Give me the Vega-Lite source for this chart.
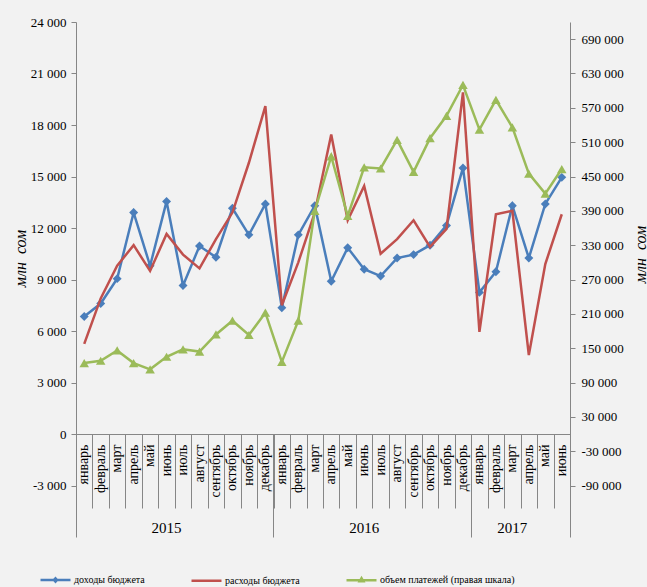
{
  "$schema": "https://vega.github.io/schema/vega-lite/v6.json",
  "autosize": {"type": "none"},
  "padding": {"left": 76, "top": 22, "right": 77, "bottom": 50},
  "width": 494,
  "height": 515,
  "background": "#f2f2f2",
  "config": {
    "view": {"stroke": null},
    "font": "Liberation Serif",
    "locale": {"number": {"decimal": ",", "thousands": " ", "grouping": [3], "currency": ["", ""], "minus": "-"}}
  },
  "data": {"values": [
    {"period": "январь 2015", "income": 6850, "expense": 5250, "payments": 124000},
    {"period": "февраль 2015", "income": 7600, "expense": 7900, "payments": 128000},
    {"period": "март 2015", "income": 9050, "expense": 9800, "payments": 146000},
    {"period": "апрель 2015", "income": 12900, "expense": 11000, "payments": 124000},
    {"period": "май 2015", "income": 9800, "expense": 9500, "payments": 113000},
    {"period": "июнь 2015", "income": 13550, "expense": 11650, "payments": 135000},
    {"period": "июль 2015", "income": 8650, "expense": 10450, "payments": 148000},
    {"period": "август 2015", "income": 10950, "expense": 9650, "payments": 144000},
    {"period": "сентябрь 2015", "income": 10300, "expense": 11350, "payments": 174000},
    {"period": "октябрь 2015", "income": 13150, "expense": 12900, "payments": 198000},
    {"period": "ноябрь 2015", "income": 11600, "expense": 15800, "payments": 173000},
    {"period": "декабрь 2015", "income": 13400, "expense": 19100, "payments": 212000},
    {"period": "январь 2016", "income": 7350, "expense": 7500, "payments": 126000},
    {"period": "февраль 2016", "income": 11600, "expense": 10000, "payments": 198000},
    {"period": "март 2016", "income": 13300, "expense": 12900, "payments": 390000},
    {"period": "апрель 2016", "income": 8900, "expense": 17450, "payments": 485000},
    {"period": "май 2016", "income": 10850, "expense": 12450, "payments": 381000},
    {"period": "июнь 2016", "income": 9600, "expense": 14450, "payments": 466000},
    {"period": "июль 2016", "income": 9200, "expense": 10500, "payments": 464000},
    {"period": "август 2016", "income": 10250, "expense": 11350, "payments": 514000},
    {"period": "сентябрь 2016", "income": 10450, "expense": 12450, "payments": 458000},
    {"period": "октябрь 2016", "income": 11000, "expense": 10900, "payments": 517000},
    {"period": "ноябрь 2016", "income": 12150, "expense": 11950, "payments": 556000},
    {"period": "декабрь 2016", "income": 15500, "expense": 19900, "payments": 610000},
    {"period": "январь 2017", "income": 8250, "expense": 5950, "payments": 532000},
    {"period": "февраль 2017", "income": 9450, "expense": 12800, "payments": 584000},
    {"period": "март 2017", "income": 13300, "expense": 13000, "payments": 536000},
    {"period": "апрель 2017", "income": 10250, "expense": 4600, "payments": 455000},
    {"period": "май 2017", "income": 13400, "expense": 9900, "payments": 420000},
    {"period": "июнь 2017", "income": 14950, "expense": 12800, "payments": 463000}
  ]},
  "resolve": {"scale": {"y": "independent"}, "axis": {"x": "independent", "y": "independent"}},
  "layer": [
    {
      "mark": {"type": "line", "color": "#4A7EBB", "strokeWidth": 2.5},
      "encoding": {
        "x": {"field": "period", "type": "ordinal",
          "scale": {"domain": ["январь 2015","февраль 2015","март 2015","апрель 2015","май 2015","июнь 2015","июль 2015","август 2015","сентябрь 2015","октябрь 2015","ноябрь 2015","декабрь 2015","январь 2016","февраль 2016","март 2016","апрель 2016","май 2016","июнь 2016","июль 2016","август 2016","сентябрь 2016","октябрь 2016","ноябрь 2016","декабрь 2016","январь 2017","февраль 2017","март 2017","апрель 2017","май 2017","июнь 2017"], "paddingInner": 0, "paddingOuter": 0},
          "axis": {"orient": "bottom", "offset": -103, "domain": true, "domainColor": "#868686", "ticks": false, "labelAngle": 270, "labelAlign": "right", "labelBaseline": "middle", "labelPadding": 10, "labelFont": "Liberation Serif", "labelFontSize": 14, "labelColor": "#000000", "labelExpr": "split(datum.label, ' ')[0]", "labelOverlap": false, "labelBound": false, "title": null, "grid": false}},
        "y": {"field": "income", "type": "quantitative",
          "scale": {"domain": [-6000, 24000], "nice": false, "zero": false},
          "axis": {"orient": "left", "values": [-3000, 0, 3000, 6000, 9000, 12000, 15000, 18000, 21000, 24000], "format": ",d", "domainColor": "#868686", "tickColor": "#868686", "tickSize": 5, "labelPadding": 5, "labelFont": "Liberation Serif", "labelFontSize": 13, "labelColor": "#000000", "grid": false, "title": "млн\u00a0\u00a0сом", "titleFont": "Liberation Serif", "titleFontSize": 16, "titleFontStyle": "italic", "titleFontWeight": "normal", "titleColor": "#000000", "titleAngle": 270, "titleX": -56, "titleY": 236, "titleAlign": "center", "titleBaseline": "middle"}}
      }
    },
    {
      "mark": {"type": "point", "shape": "diamond", "filled": true, "opacity": 1, "color": "#4A7EBB", "size": 80},
      "encoding": {
        "x": {"field": "period", "type": "ordinal",
          "scale": {"domain": ["январь 2015","февраль 2015","март 2015","апрель 2015","май 2015","июнь 2015","июль 2015","август 2015","сентябрь 2015","октябрь 2015","ноябрь 2015","декабрь 2015","январь 2016","февраль 2016","март 2016","апрель 2016","май 2016","июнь 2016","июль 2016","август 2016","сентябрь 2016","октябрь 2016","ноябрь 2016","декабрь 2016","январь 2017","февраль 2017","март 2017","апрель 2017","май 2017","июнь 2017"], "paddingInner": 0, "paddingOuter": 0},
          "axis": {"orient": "bottom", "offset": -103, "domain": false, "labels": false, "ticks": true, "tickBand": "extent", "tickSize": 74, "tickColor": "#868686", "title": null, "grid": false}},
        "y": {"field": "income", "type": "quantitative", "scale": {"domain": [-6000, 24000], "nice": false, "zero": false}, "axis": null}
      }
    },
    {
      "mark": {"type": "line", "color": "#C0504D", "strokeWidth": 2.5},
      "encoding": {
        "x": {"field": "period", "type": "ordinal",
          "scale": {"domain": ["январь 2015","февраль 2015","март 2015","апрель 2015","май 2015","июнь 2015","июль 2015","август 2015","сентябрь 2015","октябрь 2015","ноябрь 2015","декабрь 2015","январь 2016","февраль 2016","март 2016","апрель 2016","май 2016","июнь 2016","июль 2016","август 2016","сентябрь 2016","октябрь 2016","ноябрь 2016","декабрь 2016","январь 2017","февраль 2017","март 2017","апрель 2017","май 2017","июнь 2017"], "paddingInner": 0, "paddingOuter": 0},
          "axis": {"orient": "bottom", "offset": -103, "domain": false, "ticks": false, "values": ["июнь 2015", "июнь 2016", "март 2017"], "bandPosition": 1, "labelExpr": "split(datum.label, ' ')[1]", "labelAngle": 0, "labelAlign": "center", "labelBaseline": "middle", "labelPadding": 93, "labelFont": "Liberation Serif", "labelFontSize": 15, "labelColor": "#000000", "labelOverlap": false, "labelBound": false, "title": null, "grid": false}},
        "y": {"field": "expense", "type": "quantitative", "scale": {"domain": [-6000, 24000], "nice": false, "zero": false}, "axis": null}
      }
    },
    {
      "mark": {"type": "line", "color": "#9BBB59", "strokeWidth": 2.5},
      "encoding": {
        "x": {"field": "period", "type": "ordinal",
          "scale": {"domain": ["январь 2015","февраль 2015","март 2015","апрель 2015","май 2015","июнь 2015","июль 2015","август 2015","сентябрь 2015","октябрь 2015","ноябрь 2015","декабрь 2015","январь 2016","февраль 2016","март 2016","апрель 2016","май 2016","июнь 2016","июль 2016","август 2016","сентябрь 2016","октябрь 2016","ноябрь 2016","декабрь 2016","январь 2017","февраль 2017","март 2017","апрель 2017","май 2017","июнь 2017"], "paddingInner": 0, "paddingOuter": 0},
          "axis": {"orient": "bottom", "offset": -103, "domain": false, "labels": false, "values": ["январь 2016", "январь 2017"], "bandPosition": 0, "ticks": true, "tickSize": 103, "tickColor": "#868686", "title": null, "grid": false}},
        "y": {"field": "payments", "type": "quantitative",
          "scale": {"domain": [-180000, 720000], "nice": false, "zero": false},
          "axis": {"orient": "right", "values": [-90000, -30000, 30000, 90000, 150000, 210000, 270000, 330000, 390000, 450000, 510000, 570000, 630000, 690000], "format": ",d", "domainColor": "#868686", "tickColor": "#868686", "tickSize": 5, "labelPadding": 6, "labelFont": "Liberation Serif", "labelFontSize": 13, "labelColor": "#000000", "grid": false, "title": "млн\u00a0\u00a0сом", "titleFont": "Liberation Serif", "titleFontSize": 16, "titleFontStyle": "italic", "titleFontWeight": "normal", "titleColor": "#000000", "titleAngle": 270, "titleX": 70, "titleY": 232, "titleAlign": "center", "titleBaseline": "middle"}}
      }
    },
    {
      "mark": {"type": "point", "shape": "triangle-up", "filled": true, "opacity": 1, "color": "#9BBB59", "size": 90},
      "encoding": {
        "x": {"field": "period", "type": "ordinal",
          "scale": {"domain": ["январь 2015","февраль 2015","март 2015","апрель 2015","май 2015","июнь 2015","июль 2015","август 2015","сентябрь 2015","октябрь 2015","ноябрь 2015","декабрь 2015","январь 2016","февраль 2016","март 2016","апрель 2016","май 2016","июнь 2016","июль 2016","август 2016","сентябрь 2016","октябрь 2016","ноябрь 2016","декабрь 2016","январь 2017","февраль 2017","март 2017","апрель 2017","май 2017","июнь 2017"], "paddingInner": 0, "paddingOuter": 0},
          "axis": null},
        "y": {"field": "payments", "type": "quantitative", "scale": {"domain": [-180000, 720000], "nice": false, "zero": false}, "axis": null}
      }
    },
    {
      "transform": [{"filter": "false"}],
      "mark": {"type": "point", "filled": false, "opacity": 1, "strokeWidth": 2.5},
      "encoding": {
        "x": {"field": "period", "type": "ordinal",
          "scale": {"domain": ["январь 2015","февраль 2015","март 2015","апрель 2015","май 2015","июнь 2015","июль 2015","август 2015","сентябрь 2015","октябрь 2015","ноябрь 2015","декабрь 2015","январь 2016","февраль 2016","март 2016","апрель 2016","май 2016","июнь 2016","июль 2016","август 2016","сентябрь 2016","октябрь 2016","ноябрь 2016","декабрь 2016","январь 2017","февраль 2017","март 2017","апрель 2017","май 2017","июнь 2017"], "paddingInner": 0, "paddingOuter": 0},
          "axis": null},
        "y": {"field": "income", "type": "quantitative", "scale": {"domain": [0, 1]}, "axis": null},
        "color": {"field": "series", "type": "nominal",
          "scale": {"domain": ["доходы бюджета", "расходы бюджета", "объем платежей (правая шкала)"], "range": ["#4A7EBB", "#C0504D", "#9BBB59"]},
          "legend": {"orient": "none", "legendX": -37, "legendY": 541, "direction": "horizontal", "columns": 3, "title": null, "padding": 0, "symbolSize": 900, "symbolStrokeWidth": 2.5, "labelFont": "Liberation Serif", "labelFontSize": 10, "labelColor": "#000000", "labelOffset": 2, "columnPadding": 41}},
        "shape": {"field": "series", "type": "nominal",
          "scale": {"domain": ["доходы бюджета", "расходы бюджета", "объем платежей (правая шкала)"], "range": ["M-1,0H1M-0.1,0L0,-0.11L0.1,0L0,0.11Z", "M-1,0H1", "M-1,0H1M-0.12,0.07L0,-0.13L0.12,0.07Z"]},
          "legend": {"orient": "none", "legendX": -37, "legendY": 541, "direction": "horizontal", "columns": 3, "title": null, "padding": 0, "symbolSize": 900, "symbolStrokeWidth": 2.5, "labelFont": "Liberation Serif", "labelFontSize": 10, "labelColor": "#000000", "labelOffset": 2, "columnPadding": 41}}
      }
    }
  ]
}
